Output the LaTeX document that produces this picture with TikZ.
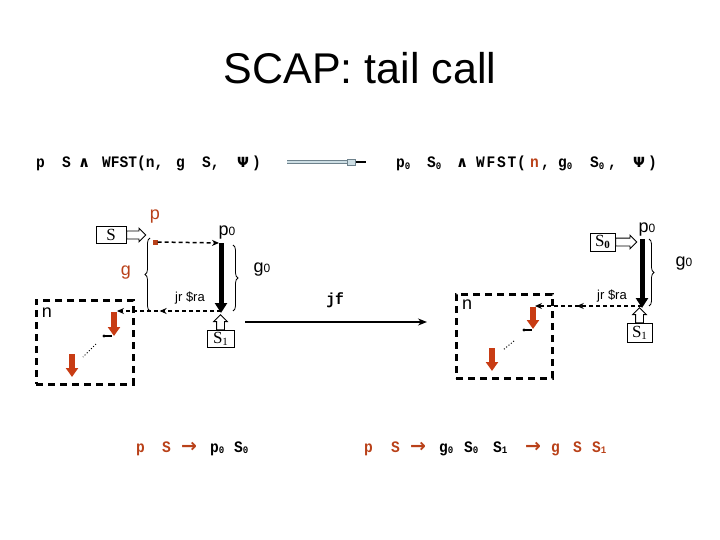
\documentclass[tikz,border=0pt]{standalone}
\usepackage{fontspec}
\setmainfont{Liberation Sans}
\setmonofont[FakeStretch=0.91]{Liberation Mono}
\newfontfamily\serifS{Liberation Serif}
\newfontfamily\djv{DejaVu Sans}
\usetikzlibrary{arrows.meta,decorations.pathreplacing,decorations.markings,shapes.arrows}
\definecolor{brn}{RGB}{185,65,25}
\definecolor{oarr}{RGB}{200,60,20}
\definecolor{dblfill}{RGB}{205,222,228}
\definecolor{dbldraw}{RGB}{110,130,140}
\newcommand{\zz}[1]{{\fontsize{10}{10}\selectfont\raisebox{-1.5pt}{#1}}}
\newcommand{\wdg}{{\djv\fontsize{15}{15}\selectfont ∧}}
\newcommand{\rar}{{\djv\fontsize{19}{19}\selectfont →}}
\begin{document}
\begin{tikzpicture}[x=1pt,y=-1pt,
  tok/.style={anchor=base west, inner sep=0pt, font=\ttfamily\bfseries\fontsize{16}{16}\selectfont},
  lbl/.style={inner sep=0pt, font=\fontsize{18}{18}\selectfont},
  smalllbl/.style={inner sep=0pt, font=\fontsize{13}{13}\selectfont},
  sbox/.style={draw, line width=0.8pt, inner sep=0pt, minimum height=17pt, font=\serifS\fontsize{17}{17}\selectfont},
  hollow/.style={single arrow, draw, line width=0.8pt, fill=white, inner sep=3.5pt, single arrow head extend=3pt, single arrow head indent=0pt},
  thickarr/.style={line width=5pt, -{Triangle[length=10pt,width=12pt]}},
  dasharr/.style={line width=1.5pt, dash pattern=on 4pt off 3pt, -{Stealth[length=7pt,width=6pt]}},
  nbox/.style={draw, line width=3pt, dash pattern=on 7pt off 5pt},
  orarr/.style={oarr, line width=6pt, -{Triangle[length=9pt,width=12pt]}},
  brc/.style={decorate, decoration={brace, amplitude=5pt}, line width=0.8pt},
  midarr/.style={postaction={decorate, decoration={markings, mark=at position #1 with {\arrow{Stealth[length=7pt,width=6pt]}}}}}
]
\useasboundingbox (0,0) rectangle (720,540);

% title
\node[inner sep=0pt, font=\fontsize{43}{43}\selectfont] (title) at (360,68) {SCAP: tail call};

% left formula
\foreach \x/\t [count=\i] in {36/p, 62/S, 78/\wdg, 102/{WFST(n,}, 176/g, 202/{S,}, 252/)}
  \node[tok] (fa\i) at (\x,168) {\t};
\node[tok, font=\djv\bfseries\fontsize{14}{14}\selectfont] (fapsi) at (237,168) {Ψ};

% right formula
\foreach \x/\t [count=\i] in {396/{p\zz0}, 427/{S\zz0}, 456/\wdg, 476/W, 486.5/F, 497/S, 507.5/T, 517/(, 541/{,}, 558/{g\zz0}, 590/{S\zz0}, 608/{,}, 648/)}
  \node[tok] (fb\i) at (\x,168) {\t};
\node[tok, text=brn] (fbn) at (530,168) {n};
\node[tok, font=\djv\bfseries\fontsize{14}{14}\selectfont] (fbpsi) at (633,168) {Ψ};

% double arrow between formulas
\coordinate (da1) at (287,162);
\coordinate (da2) at (347,162);
\coordinate (da3) at (366,162);
\draw[draw=dbldraw, double=dblfill, double distance=2.2pt, line width=0.6pt] (da1) -- (da2);
\node[draw=dbldraw, fill=dblfill, line width=0.6pt, minimum width=8pt, minimum height=6pt, inner sep=0pt, anchor=west] (dab) at (da2) {};
\draw[line width=1.5pt] (dab.east) -- (da3);

% ---------------- left diagram ----------------
\node[sbox, minimum width=30pt] (Sl) at (111,235) {S};
\node[hollow, minimum height=19pt, anchor=tail] (hSl) at (Sl.east) {};
\node[lbl, text=brn] (pl) at (155,217) {p};
\node[fill=brn, minimum size=5pt, inner sep=0pt] (sq) at (155,242) {};
\node[lbl] (p0l) at (227,233) {p{\fontsize{12}{12}\selectfont 0}};
\coordinate (tAl) at (221,243);
\coordinate (bAl) at (221,313);
\coordinate (dLt) at (219,243);
\draw[dasharr] (sq.east) -- (dLt);
\draw[thickarr] (tAl) -- (bAl);
\draw[brc] (150,311) -- (150,238);
\node[lbl, text=brn] (gl) at (126,273) {g};
\draw[brc] (233,245) -- (233,311);
\node[lbl] (g0l) at (262,270) {g{\fontsize{12}{12}\selectfont 0}};
\coordinate (rlA) at (221,311);
\coordinate (rlB) at (117,311);
\draw[dasharr, midarr=0.59] (rlA) -- (rlB);
\node[smalllbl] (jrl) at (190,298) {jr \$ra};
\node[sbox, minimum width=27pt] (S1l) at (220.5,339) {S{\fontsize{11}{11}\selectfont\raisebox{-2pt}{1}}};
\node[hollow, minimum height=15pt, anchor=tail, shape border rotate=90] (hS1l) at (S1l.north) {};

\node[nbox, minimum width=97pt, minimum height=84pt, inner sep=0pt] (nl) at (84.5,342) {};
\node[lbl] (nlt) at (47,313) {n};
\draw[orarr] (114,312) -- (114,336);
\draw[orarr] (72,354) -- (72,377);
\draw[line width=1.2pt] (104,336) -- (112,336);
\fill (104,336) circle (1.6pt);
\draw[line width=1pt, dotted] (96,344) -- (83,357);

% middle arrow
\coordinate (jfA) at (245,322);
\coordinate (jfB) at (427,322);
\draw[line width=1.5pt, -{Stealth[length=9pt,width=7pt]}] (jfA) -- (jfB);
\node[inner sep=0pt, font=\ttfamily\bfseries\fontsize{16}{16}\selectfont] (jf) at (335,300) {jf};

% ---------------- right diagram ----------------
\node[sbox, minimum width=25pt, minimum height=18pt] (S0r) at (602.5,242) {S{\fontsize{11}{11}\selectfont\bfseries\raisebox{-2pt}{0}}};
\node[hollow, minimum height=21pt, anchor=tail] (hS0r) at (S0r.east) {};
\node[lbl] (p0r) at (647,230) {p{\fontsize{12}{12}\selectfont 0}};
\coordinate (tAr) at (642,239);
\coordinate (bAr) at (642,308);
\draw[thickarr] (tAr) -- (bAr);
\draw[brc] (649,239) -- (649,306);
\node[lbl] (g0r) at (684,264) {g{\fontsize{12}{12}\selectfont 0}};
\coordinate (rrA) at (642,306);
\coordinate (rrB) at (535,306);
\draw[dasharr, midarr=0.61] (rrA) -- (rrB);
\node[smalllbl] (jrr) at (612,296) {jr \$ra};
\node[sbox, minimum width=25pt, minimum height=19pt] (S1r) at (639.5,333) {S{\fontsize{11}{11}\selectfont\raisebox{-2pt}{1}}};
\node[hollow, minimum height=15pt, anchor=tail, shape border rotate=90] (hS1r) at (S1r.north) {};

\node[nbox, minimum width=96pt, minimum height=84pt, inner sep=0pt] (nr) at (504,336) {};
\node[lbl] (nrt) at (467,305) {n};
\draw[orarr] (533,307) -- (533,329);
\draw[orarr] (492,348) -- (492,371);
\draw[line width=1.2pt] (524,330) -- (532,330);
\fill (524,330) circle (1.6pt);
\draw[line width=1pt, dotted] (514,341) -- (503,350);

% bottom formulas
\foreach \x/\t/\c [count=\i] in {136/p/brn, 162/S/brn, 181/\rar/brn, 210/{p\zz0}/black, 234/{S\zz0}/black}
  \node[tok, text=\c] (bf\i) at (\x,452) {\t};
\foreach \x/\t/\c [count=\i] in {364/p/brn, 391/S/brn, 410/\rar/brn, 439/{g\zz0}/black, 464/{S\zz0}/black, 493/{S\zz1}/black, 525/\rar/brn, 551/g/brn, 573/S/brn, 592/{S\zz1}/brn}
  \node[tok, text=\c] (bg\i) at (\x,452) {\t};
\end{tikzpicture}
\end{document}
